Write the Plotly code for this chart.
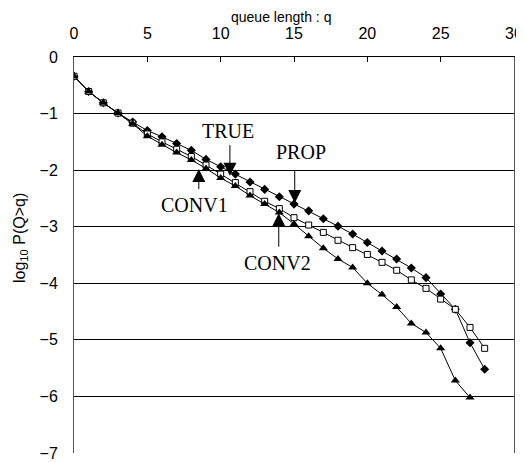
import plotly.graph_objects as go

q = list(range(29))
q_conv = list(range(28))

s_diamond = [-0.34, -0.61, -0.81, -0.99, -1.15, -1.30, -1.41, -1.53, -1.65, -1.81,
             -1.94, -2.07, -2.21, -2.34, -2.47, -2.60, -2.72, -2.86, -2.99, -3.13,
             -3.28, -3.43, -3.57, -3.73, -3.90, -4.19, -4.46, -5.05, -5.52]
s_square = [-0.34, -0.61, -0.81, -0.99, -1.17, -1.36, -1.50, -1.63, -1.76, -1.91,
            -2.07, -2.22, -2.38, -2.55, -2.68, -2.84, -2.97, -3.10, -3.24, -3.37,
            -3.49, -3.63, -3.77, -3.94, -4.09, -4.28, -4.46, -4.78, -5.15]
s_triangle = [-0.34, -0.61, -0.81, -0.99, -1.18, -1.40, -1.55, -1.69, -1.82, -1.97,
              -2.14, -2.28, -2.45, -2.60, -2.75, -2.95, -3.17, -3.38, -3.57, -3.72,
              -4.00, -4.20, -4.42, -4.71, -4.87, -5.15, -5.72, -6.02]

x_ticks = [0, 5, 10, 15, 20, 25, 30]
y_ticks = [0, -1, -2, -3, -4, -5, -6, -7]

# the page body has an 8px default margin, so the figure is offset by 8px
OFF = 8
W, H = 524 - OFF, 462 - OFF
L, R, T, B = 74 - OFF, 10, 57 - OFF, 9
PW, PH = W - L - R, H - T - B


def px_x(p):
    return (p - OFF - L) / PW


def px_y(p):
    return 1 - (p - OFF - T) / PH


fig = go.Figure()
fig.add_trace(go.Scatter(x=q, y=s_diamond, mode="lines+markers", name="TRUE",
                         line=dict(color="black", width=1),
                         marker=dict(symbol="diamond", size=7, color="black")))
fig.add_trace(go.Scatter(x=q, y=s_square, mode="lines+markers", name="PROP",
                         line=dict(color="black", width=1),
                         marker=dict(symbol="square", size=6, color="white",
                                     line=dict(color="black", width=1))))
fig.add_trace(go.Scatter(x=q_conv, y=s_triangle, mode="lines+markers", name="CONV",
                         line=dict(color="black", width=1),
                         marker=dict(symbol="triangle-up", size=8, color="black")))

serif = dict(family="Liberation Serif", size=20, color="black")
labels = [
    # text, text_x, text_y, tail_x, tail_y, tip_x, tip_y
    ("TRUE", 10.49, -1.30, 10.63, -1.53, 10.63, -2.10),
    ("PROP", 15.51, -1.68, 15.05, -1.98, 15.05, -2.58),
    ("CONV1", 8.24, -2.61, 8.51, -2.36, 8.51, -1.98),
    ("CONV2", 13.85, -3.645, 13.96, -3.38, 13.96, -2.76),
]
for txt, tx, ty, ax, ay, px, py in labels:
    fig.add_annotation(x=tx, y=ty, text=txt, showarrow=False, font=serif,
                       xref="x", yref="y")
    fig.add_annotation(x=px, y=py, ax=ax, ay=ay, axref="x", ayref="y",
                       xref="x", yref="y", text="", showarrow=True,
                       arrowhead=2, arrowsize=2.6, arrowwidth=1, arrowcolor="black")

fig.add_annotation(x=px_x(20), xref="paper", xanchor="center",
                   y=px_y(238), yref="paper", yanchor="middle",
                   text="log<sub>10</sub> P(Q&gt;q)", showarrow=False, textangle=-90,
                   font=dict(family="Liberation Sans", size=16, color="black"))
fig.add_annotation(x=px_x(281), xref="paper", xanchor="center",
                   y=px_y(8), yref="paper", yanchor="top", borderpad=0,
                   text="queue length : q", showarrow=False,
                   font=dict(family="Liberation Sans", size=14, color="black"))

fig.update_layout(
    width=W, height=H,
    margin=dict(l=L, r=R, t=T, b=B, autoexpand=False),
    paper_bgcolor="white", plot_bgcolor="white",
    showlegend=False,
    font=dict(family="Liberation Sans", size=16, color="black"),
    xaxis=dict(range=[0, 30], side="top", tickvals=x_ticks, automargin=False,
               tickfont=dict(size=16), ticklabelstandoff=11,
               showgrid=False, zeroline=False, showline=True, linecolor="black",
               linewidth=1, ticks="inside", ticklen=5, tickcolor="black"),
    yaxis=dict(range=[-7, 0], tickvals=y_ticks, showgrid=True, gridcolor="black",
               gridwidth=1, zeroline=False, showline=True, linecolor="#555",
               linewidth=1, mirror=True, ticks="", automargin=False,
               tickfont=dict(size=16), ticklabelstandoff=12),
)

fig.write_html("out.html")
